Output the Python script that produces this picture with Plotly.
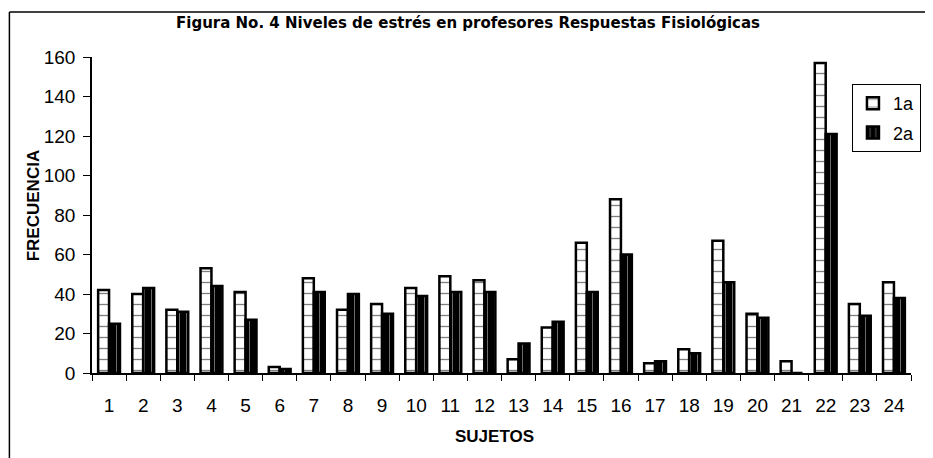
import plotly.graph_objects as go

sujetos = [str(i) for i in range(1, 25)]
serie_1a = [42, 40, 32, 53, 41, 3, 48, 32, 35, 43, 49, 47, 7, 23, 66, 88, 5, 12, 67, 30, 6, 157, 35, 46]
serie_2a = [25, 43, 31, 44, 27, 2, 41, 40, 30, 39, 41, 41, 15, 26, 41, 60, 6, 10, 46, 28, 0, 121, 29, 38]
y_ticks = [0, 20, 40, 60, 80, 100, 120, 140, 160]

FONT = "Liberation Sans, Arial, sans-serif"

# page body has an 8px margin: figure pixel = reference pixel - 8
W, H = 925, 450
PL, PR, PT, PB = 92, 915, 57, 373  # plot area in reference pixels


def px(x):
    return (x - PL) / (PR - PL)


def py(y):
    return (PB - y) / (PB - PT)


fig = go.Figure()
fig.add_trace(go.Bar(
    x=sujetos, y=serie_1a, name="1a", legendgroup="a",
    marker=dict(color="white", line=dict(color="black", width=2.5),
                pattern=dict(shape="-", fgcolor="black", bgcolor="white", size=11, solidity=0.12)),
))
fig.add_trace(go.Bar(
    x=sujetos, y=serie_2a, name="2a", legendgroup="b",
    marker=dict(color="black", line=dict(color="black", width=2.5),
                pattern=dict(shape="|", fgcolor="white", bgcolor="black", size=7, solidity=0.12)),
))

fig.update_layout(
    width=W, height=H,
    margin=dict(l=PL - 8, r=W - (PR - 8), t=PT - 8, b=H - (PB - 8)),
    paper_bgcolor="white", plot_bgcolor="white",
    barmode="group", bargap=0.36, bargroupgap=0.0,
    font=dict(family=FONT, color="black"),
    showlegend=True,
    legend=dict(x=px(925), y=py(84), xanchor="right", yanchor="top",
                bordercolor="black", borderwidth=1, bgcolor="white",
                font=dict(size=18, family=FONT), tracegroupgap=3,
                itemwidth=30),
    xaxis=dict(type="category", tickson="boundaries", ticks="outside", ticklen=6,
               tickcolor="black", showline=True, linecolor="black", linewidth=1.5,
               tickfont=dict(size=19, family=FONT), ticklabelstandoff=14,
               showgrid=False, zeroline=False),
    yaxis=dict(range=[0, 160], tickvals=y_ticks, ticks="outside", ticklen=7,
               tickcolor="black", showline=True, linecolor="black", linewidth=1.5,
               tickfont=dict(size=19, family=FONT), ticklabelstandoff=4,
               showgrid=False, zeroline=False),
    annotations=[
        dict(text="<b>Figura No. 4 Niveles de estrés en profesores Respuestas Fisiológicas</b>",
             xref="paper", yref="paper", x=px(470), y=py(23),
             xanchor="center", yanchor="middle", showarrow=False,
             font=dict(size=15, family="DejaVu Sans, sans-serif")),
        dict(text="<b>FRECUENCIA</b>", textangle=-90,
             xref="paper", yref="paper", x=px(33), y=py(206),
             xanchor="center", yanchor="middle", showarrow=False,
             font=dict(size=17, family=FONT)),
        dict(text="<b>SUJETOS</b>",
             xref="paper", yref="paper", x=px(496), y=py(436),
             xanchor="center", yanchor="middle", showarrow=False,
             font=dict(size=17, family=FONT)),
    ],
    shapes=[
        dict(type="line", xref="paper", yref="paper",
             x0=px(9), x1=px(940), y0=py(12), y1=py(12),
             line=dict(color="black", width=1.5)),
        dict(type="line", xref="paper", yref="paper",
             x0=px(9), x1=px(9), y0=py(12), y1=py(470),
             line=dict(color="black", width=1.5)),
    ],
)

fig.write_html("out.html")
